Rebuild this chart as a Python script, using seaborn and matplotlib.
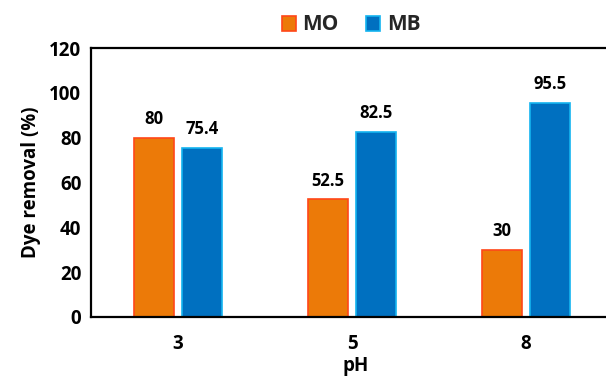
import matplotlib
matplotlib.use("Agg")
import matplotlib.pyplot as plt
import seaborn as sns
import pandas as pd
from matplotlib.patches import Patch

ph_levels = ["3", "5", "8"]
dyes = ["MO", "MB"]
mo_removal = [80, 52.5, 30]
mb_removal = [75.4, 82.5, 95.5]
value_labels = {"MO": ["80", "52.5", "30"], "MB": ["75.4", "82.5", "95.5"]}

fills = {"MO": "#EC7A08", "MB": "#0070C0"}
edges = {"MO": "#FF4719", "MB": "#14B4F0"}

df = pd.DataFrame({
    "pH": ph_levels * 2,
    "dye": ["MO"] * 3 + ["MB"] * 3,
    "removal": mo_removal + mb_removal,
})

sns.set_theme(style="white")
plt.rcParams["font.family"] = ["Open Sans", "DejaVu Sans"]
plt.rcParams["font.weight"] = "bold"

fig = plt.figure(figsize=(6.06, 3.83), dpi=100)
# plot box runs slightly past the right edge of the canvas
ax = fig.add_axes([91 / 606, 66 / 383, 530 / 606, 269 / 383])

sns.barplot(data=df, x="pH", y="removal", hue="dye", order=ph_levels,
            hue_order=dyes, palette=fills, width=0.56, gap=0.18,
            saturation=1, legend=False, ax=ax)

for container, dye in zip(ax.containers, dyes):
    for bar in container:
        bar.set_edgecolor(edges[dye])
        bar.set_linewidth(1.2)
    for bar, txt in zip(container, value_labels[dye]):
        ax.annotate(txt, (bar.get_x() + bar.get_width() / 2, bar.get_height()),
                    xytext=(0, 7), textcoords="offset points",
                    ha="center", va="bottom", fontsize=12, fontweight="bold",
                    color="black")

ax.set_xlim(-0.5, 2.5 + 8 / 174.5)
ax.set_ylim(0, 120)
ax.set_yticks(range(0, 121, 20))
ax.tick_params(axis="y", length=0, labelsize=13.5, pad=7, colors="black")
ax.tick_params(axis="x", length=0, labelsize=13.5, pad=12, colors="black")
for lab in ax.get_xticklabels() + ax.get_yticklabels():
    lab.set_fontweight("bold")
ax.set_xlabel("pH", fontsize=13.5, fontweight="bold", color="black", labelpad=2)
ax.set_ylabel("Dye removal (%)", fontsize=13.5, fontweight="bold", color="black", labelpad=6)

for s in ax.spines.values():
    s.set_color("black")
    s.set_linewidth(1.6)
ax.spines["right"].set_visible(False)

handles = [Patch(facecolor=fills[d], edgecolor=edges[d], linewidth=1.2, label=d) for d in dyes]
fig.legend(handles=handles, loc="center", bbox_to_anchor=(351 / 606, 1 - 25 / 383),
           ncol=2, frameon=False, prop={"weight": "bold", "size": 15},
           handlelength=0.7, handleheight=0.7, handletextpad=0.3, columnspacing=1.3)

fig.savefig("out.png", dpi=100)
